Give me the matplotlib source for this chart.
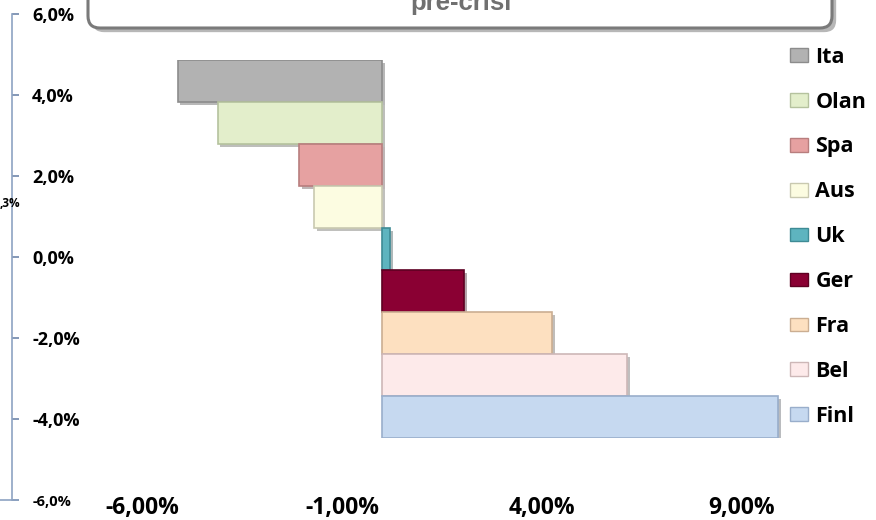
import matplotlib
matplotlib.use("Agg")
import matplotlib.pyplot as plt
from matplotlib.patches import FancyBboxPatch, Patch
import matplotlib.patheffects as pe
from matplotlib.ticker import FuncFormatter

# ---- data ----
countries = ["Ita", "Olan", "Spa", "Aus", "Uk", "Ger", "Fra", "Bel", "Finl"]
values = [-5.11, -4.11, -2.08, -1.70, 0.20, 2.06, 4.26, 6.13, 9.91]
colors = ["#B2B2B2", "#E3EECB", "#E6A1A1", "#FCFCE1", "#5EB4BF",
          "#8A0033", "#FDE0C0", "#FDEAEA", "#C6D9F0"]
edges = ["#8C8C8C", "#B5C29E", "#B87E7E", "#C9C9B0", "#3E8B95",
         "#5E0022", "#CBAE92", "#CDB7B7", "#99AECB"]
x_ticks = [-6, -1, 4, 9]
sec_ticks = [-6, -4, -2, 0, 2, 4, 6]
title = "pre-crisi"
side_label = ",3%"

W, H = 876, 520
fig = plt.figure(figsize=(W / 100, H / 100), dpi=100)
FONT = "Open Sans"


def px_axes(l, t, r, b):
    return fig.add_axes([l / W, 1 - b / H, (r - l) / W, (b - t) / H])


# ---- main bar axes ----
ax = px_axes(142, 60, 782, 438)
n = len(countries)
ypos = [n - 1 - i for i in range(n)]
shadow = [pe.SimplePatchShadow(offset=(2, -2), alpha=0.35), pe.Normal()]
bars = ax.barh(ypos, values, height=1.0, color=colors, edgecolor=edges,
               linewidth=1.2, zorder=3)
for b in bars:
    b.set_path_effects(shadow)
ax.set_xlim(-6, 10)
ax.set_ylim(-0.5, n - 0.5)
ax.set_xticks(x_ticks)
ax.xaxis.set_major_formatter(FuncFormatter(lambda v, p: f"{v:.2f}%".replace(".", ",")))
ax.tick_params(axis="x", length=0, pad=42, labelsize=16.5)
for lab in ax.get_xticklabels():
    lab.set_fontfamily(FONT)
    lab.set_fontweight("bold")
ax.set_yticks([])
for s in ax.spines.values():
    s.set_visible(False)
ax.patch.set_visible(False)

# ---- secondary (left) axis ----
ax2 = px_axes(12, 14, 100, 500)
ax2.patch.set_visible(False)
ax2.set_ylim(-6, 6)
ax2.set_yticks(sec_ticks)
ax2.yaxis.set_major_formatter(FuncFormatter(lambda v, p: f"{v:.1f}%".replace(".", ",")))
ax2.set_xticks([])
for k in ("top", "right", "bottom"):
    ax2.spines[k].set_visible(False)
ax2.spines["left"].set_color("#8EA3C2")
ax2.spines["left"].set_linewidth(1.2)
ax2.tick_params(axis="y", direction="in", length=5, width=1.2, color="#6F86AA",
                pad=-14.5, labelsize=13)
for lab in ax2.get_yticklabels():
    lab.set_horizontalalignment("left")
    lab.set_fontfamily(FONT)
    lab.set_fontweight("bold")
ax2.get_yticklabels()[0].set_fontsize(10.5)
fig.add_artist(plt.Line2D([0, 18 / W], [1 - 500 / H, 1 - 500 / H],
                          color="#8EA3C2", linewidth=1.2))

# ---- legend ----
handles = [Patch(facecolor=c, edgecolor=e, linewidth=1.0) for c, e in zip(colors, edges)]
fig.legend(handles, countries, loc="upper left",
           bbox_to_anchor=(781 / W, 1 - 38 / H), frameon=False,
           prop={"family": FONT, "weight": "bold", "size": 15.5},
           handlelength=0.85, handleheight=0.6, handletextpad=0.35,
           labelspacing=1.11, borderaxespad=0)

# ---- title box ----
box = FancyBboxPatch((0.88, (H - 28) / 100), 7.44, 1.0,
                     boxstyle="round,pad=0,rounding_size=0.12",
                     transform=fig.dpi_scale_trans, facecolor="white",
                     edgecolor="#7A7A7A", linewidth=2.2, zorder=5)
box.set_path_effects([pe.SimplePatchShadow(offset=(3, -3), alpha=0.4), pe.Normal()])
fig.patches.append(box)
fig.text(461 / W, 1 - 10 / H, title, ha="center", va="baseline",
         fontsize=18.5, fontweight="bold", family="Liberation Sans",
         color="#707070", zorder=6)

fig.text(0, 1 - 204 / H, side_label, ha="left", va="center", fontsize=8.5,
         fontweight="bold", family=FONT)

fig.savefig("out.png", dpi=100)
